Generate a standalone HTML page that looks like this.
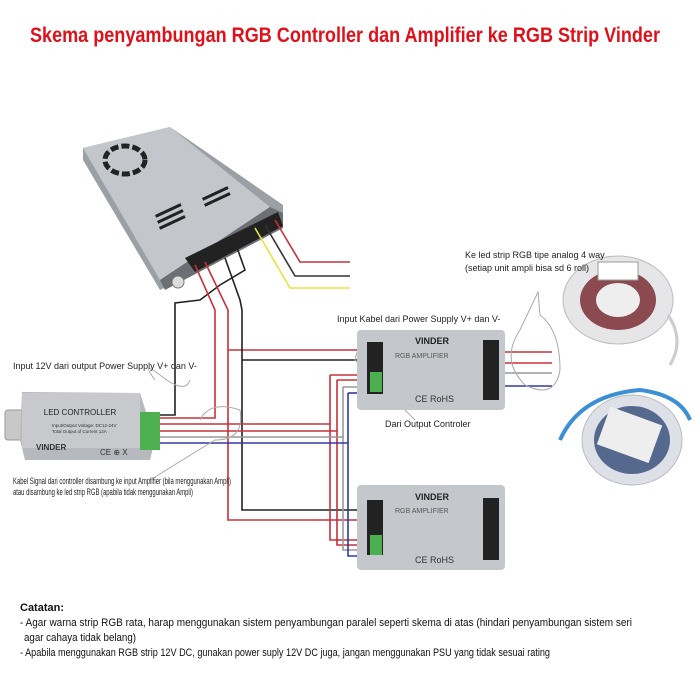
<!DOCTYPE html>
<html><head><meta charset="utf-8"><style>
body{margin:0;background:#fff}
svg{display:block}
text{font-family:"Liberation Sans Narrow","Liberation Sans",sans-serif}
</style></head><body>
<svg width="700" height="700" viewBox="0 0 700 700" xmlns="http://www.w3.org/2000/svg">
<rect width="700" height="700" fill="#fff"/>
<text x="345" y="42" text-anchor="middle" font-size="21" font-weight="bold" fill="#e0101a" textLength="630" lengthAdjust="spacingAndGlyphs">Skema penyambungan RGB Controller dan Amplifier ke RGB Strip Vinder</text>

<!-- PSU -->
<polygon points="83,148 170,127 283,205 283,228 160,290 83,160" fill="#9aa0a6"/>
<polygon points="83,148 170,127 270,207 160,280" fill="#c3c7cc"/>
<polygon points="160,280 270,207 283,213 283,228 165,290" fill="#6c6f73"/>
<polygon points="185,258 278,212 283,226 195,272" fill="#222"/>
<g fill="#222">
<ellipse cx="125" cy="160" rx="20" ry="14" fill="none" stroke="#222" stroke-width="5" stroke-dasharray="8 3"/>
<rect x="155" y="215" width="28" height="3" transform="rotate(-25 155 215)"/>
<rect x="157" y="221" width="28" height="3" transform="rotate(-25 157 221)"/>
<rect x="159" y="227" width="28" height="3" transform="rotate(-25 159 227)"/>
<rect x="202" y="198" width="28" height="3" transform="rotate(-25 202 198)"/>
<rect x="204" y="204" width="28" height="3" transform="rotate(-25 204 204)"/>
</g>
<circle cx="178" cy="282" r="6" fill="#ddd" stroke="#777"/>

<g fill="none" stroke-width="1.6">
<polyline points="275,220 300,262 350,262" stroke="#c8303a"/>
<polyline points="265,225 295,276 350,276" stroke="#333"/>
<polyline points="255,228 290,288 350,288" stroke="#e5e540"/>
<polyline points="235,242 245,270 220,285 200,300 175,303 175,415 158,415" stroke="#222"/>
<polyline points="195,265 215,310 215,418 160,418" stroke="#c8303a"/>
<polyline points="205,262 228,310 228,520 360,520" stroke="#c8303a"/>
<polyline points="228,350 360,350" stroke="#c8303a"/>
<polyline points="225,258 240,300 242,310 242,510 360,510" stroke="#222"/>
<polyline points="242,360 360,360" stroke="#222"/>
<polyline points="158,424 330,424 330,540 360,540" stroke="#c8303a"/>
<polyline points="330,375 360,375" stroke="#c8303a"/>
<polyline points="158,431 337,431 337,545 360,545" stroke="#c8303a"/>
<polyline points="337,380 360,380" stroke="#c8303a"/>
<polyline points="158,437 343,437 343,550 360,550" stroke="#999"/>
<polyline points="343,387 360,387" stroke="#999"/>
<polyline points="158,443 348,443 348,556 360,556" stroke="#3338a0"/>
<polyline points="348,393 360,393" stroke="#3338a0"/>
<polyline points="330,424 330,375" stroke="#c8303a"/>
<polyline points="337,431 337,380" stroke="#c8303a"/>
<polyline points="343,437 343,387" stroke="#999"/>
<polyline points="348,443 348,393" stroke="#3338a0"/>
<line x1="495" y1="352" x2="552" y2="352" stroke="#c8303a"/>
<line x1="495" y1="363" x2="552" y2="363" stroke="#c8303a"/>
<line x1="495" y1="373" x2="552" y2="373" stroke="#999"/>
<line x1="495" y1="386" x2="552" y2="386" stroke="#3338a0"/>
</g>

<g fill="none" stroke="#aaa" stroke-width="1">
<path d="M538,292 L520,330 Q500,360 525,385 Q555,400 560,370 Q560,330 540,315 Z"/>
<path d="M155,380 Q140,360 160,375 Q185,395 190,380"/>
<path d="M200,420 Q210,400 240,410 Q245,440 215,440 L150,480"/>
<path d="M400,340 Q360,330 355,360 Q380,385 415,420"/>
</g>

<!-- Controller -->
<rect x="5" y="410" width="20" height="30" rx="3" fill="#c8c8c8" stroke="#999"/>
<polygon points="22,392 140,393 155,440 150,460 25,460 20,440" fill="#b6b9bd"/>
<rect x="22" y="393" width="118" height="55" fill="#c7c9cc"/>
<rect x="140" y="412" width="20" height="38" fill="#4caf50"/>
<text x="80" y="415" text-anchor="middle" font-size="8" fill="#222">LED CONTROLLER</text>
<text x="52" y="427" font-size="4.5" fill="#333">Input/Output Voltage: DC12-24V</text>
<text x="52" y="433" font-size="4.5" fill="#333">Total Output of Current 12A</text>
<text x="36" y="450" font-size="8" font-weight="bold" fill="#333">VINDER</text>
<text x="100" y="455" font-size="8" fill="#333">CE ⊕ X</text>

<!-- Amps -->
<g>
<rect x="357" y="330" width="148" height="80" rx="4" fill="#c4c8cd"/>
<rect x="367" y="342" width="16" height="52" fill="#222"/><rect x="370" y="372" width="12" height="20" fill="#4caf50"/>
<rect x="483" y="340" width="16" height="60" fill="#222"/>
<text x="415" y="344" font-size="9" font-weight="bold" fill="#222">VINDER</text>
<text x="395" y="358" font-size="7" fill="#555">RGB AMPLIFIER</text>
<text x="415" y="402" font-size="9" fill="#333">CE  RoHS</text>
</g>
<g>
<rect x="357" y="485" width="148" height="85" rx="4" fill="#c4c8cd"/>
<rect x="367" y="500" width="16" height="55" fill="#222"/><rect x="370" y="535" width="12" height="20" fill="#4caf50"/>
<rect x="483" y="498" width="16" height="62" fill="#222"/>
<text x="415" y="500" font-size="9" font-weight="bold" fill="#222">VINDER</text>
<text x="395" y="513" font-size="7" fill="#555">RGB AMPLIFIER</text>
<text x="415" y="563" font-size="9" fill="#333">CE  RoHS</text>
</g>

<!-- reels -->
<ellipse cx="618" cy="300" rx="55" ry="44" fill="#e6e6e8" stroke="#bbb"/>
<ellipse cx="618" cy="300" rx="38" ry="30" fill="#8a4a50"/>
<ellipse cx="618" cy="300" rx="22" ry="17" fill="#eee"/>
<rect x="598" y="262" width="40" height="18" fill="#fff" stroke="#999"/>
<path d="M668,315 Q685,340 670,365" stroke="#ccc" stroke-width="3" fill="none"/>
<path d="M560,440 Q580,395 640,390 Q680,395 690,420" stroke="#3a8fd6" stroke-width="4" fill="none"/>
<ellipse cx="632" cy="440" rx="50" ry="45" fill="#dde0e6" stroke="#bbb"/>
<ellipse cx="632" cy="440" rx="38" ry="34" fill="#55698f"/>
<rect x="602" y="415" width="55" height="40" fill="#eee" transform="rotate(20 630 435)"/>

<g font-size="9" fill="#222">
<text x="465" y="258">Ke led strip RGB tipe analog  4 way</text>
<text x="465" y="271">(setiap unit ampli bisa sd 6 roll)</text>
<text x="337" y="322">Input Kabel dari Power Supply V+ dan V-</text>
<text x="13" y="369">Input 12V dari output Power Supply V+ dan V-</text>
<text x="385" y="427">Dari Output Controler</text>
<text x="13" y="484" textLength="218" lengthAdjust="spacingAndGlyphs">Kabel Signal dari controller disambung ke input Amplifier (bila menggunakan Ampli)</text>
<text x="13" y="495" textLength="180" lengthAdjust="spacingAndGlyphs">atau disambung ke led strip RGB (apabila tidak menggunakan Ampli)</text>
</g>
<g font-size="11" fill="#111">
<text x="20" y="611" font-weight="bold">Catatan:</text>
<text x="20" y="626" textLength="612" lengthAdjust="spacingAndGlyphs">- Agar warna strip RGB rata, harap menggunakan sistem penyambungan paralel seperti skema di atas (hindari penyambungan sistem seri</text>
<text x="24" y="641" textLength="112" lengthAdjust="spacingAndGlyphs">agar cahaya tidak belang)</text>
<text x="20" y="656" textLength="530" lengthAdjust="spacingAndGlyphs">- Apabila menggunakan RGB strip 12V DC, gunakan power suply 12V DC juga, jangan menggunakan PSU yang tidak sesuai rating</text>
</g>
</svg>
</body></html>
